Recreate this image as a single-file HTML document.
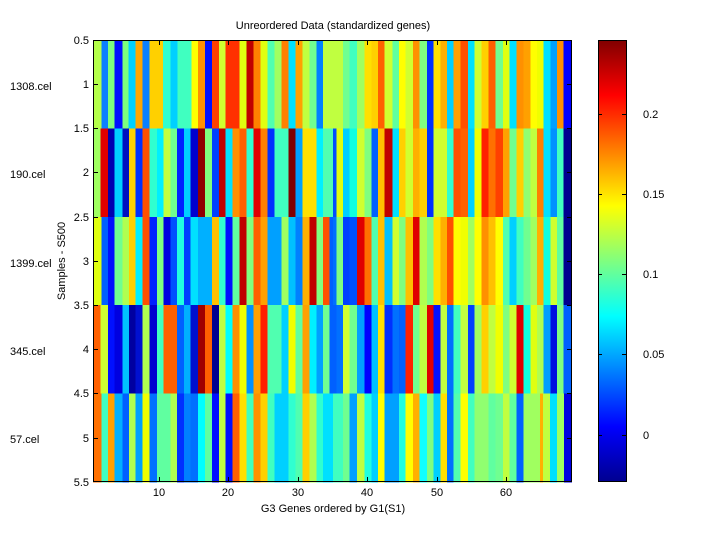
<!DOCTYPE html>
<html><head><meta charset="utf-8"><style>
body{margin:0;background:#fff;}
svg text{font-family:"Liberation Sans",sans-serif;font-size:11px;fill:#000;}
</style></head><body>
<svg width="720" height="540" xmlns="http://www.w3.org/2000/svg" shape-rendering="crispEdges">
<rect width="720" height="540" fill="#fff"/>
<defs>
<linearGradient id="jet" x1="0" y1="1" x2="0" y2="0">
<stop offset="0" stop-color="#00008f"/><stop offset="0.125" stop-color="#0000ff"/>
<stop offset="0.375" stop-color="#00ffff"/><stop offset="0.625" stop-color="#ffff00"/>
<stop offset="0.875" stop-color="#ff0000"/><stop offset="1" stop-color="#800000"/>
</linearGradient>
</defs>
<g id="L" transform="translate(93,0) scale(0.33333,1)">
<!-- row1 -->
<g transform="translate(0,40)">
<rect x="0" width="25" height="89" fill="#b5ff4a"/><rect x="25" width="20" height="89" fill="#0a80ff"/><rect x="45" width="20" height="89" fill="#7dff7d"/><rect x="65" width="23" height="89" fill="#0010ff"/><rect x="88" width="19" height="89" fill="#7dff7d"/><rect x="107" width="21" height="89" fill="#00d0ff"/><rect x="128" width="20" height="89" fill="#ffa600"/><rect x="148" width="22" height="89" fill="#0a80ff"/><rect x="170" width="40" height="89" fill="#ffd000"/><rect x="210" width="22" height="89" fill="#30ffd0"/><rect x="232" width="21" height="89" fill="#00d0ff"/><rect x="253" width="42" height="89" fill="#40ffc0"/><rect x="295" width="20" height="89" fill="#ffff00"/><rect x="315" width="21" height="89" fill="#ff9000"/><rect x="336" width="21" height="89" fill="#0010ff"/><rect x="357" width="21" height="89" fill="#ff4000"/><rect x="378" width="20" height="89" fill="#d0ff30"/><rect x="398" width="42" height="89" fill="#ff3000"/><rect x="440" width="20" height="89" fill="#e0ff10"/><rect x="460" width="22" height="89" fill="#c00000"/><rect x="482" width="20" height="89" fill="#ff8000"/><rect x="502" width="22" height="89" fill="#e0ff10"/><rect x="524" width="21" height="89" fill="#50ffb0"/><rect x="545" width="21" height="89" fill="#a0ff60"/><rect x="566" width="21" height="89" fill="#ff8000"/><rect x="587" width="20" height="89" fill="#00e0ff"/><rect x="607" width="21" height="89" fill="#ffa000"/><rect x="628" width="22" height="89" fill="#c0ff40"/><rect x="650" width="20" height="89" fill="#70ff90"/><rect x="670" width="20" height="89" fill="#0080ff"/><rect x="690" width="30" height="89" fill="#c0ff40"/>
<g transform="translate(720,0)">
<rect x="0" width="30" height="89" fill="#c0ff40"/><rect x="30" width="20" height="89" fill="#70ff90"/><rect x="50" width="22" height="89" fill="#40ffc0"/><rect x="72" width="23" height="89" fill="#a0ff60"/><rect x="95" width="20" height="89" fill="#ffe000"/><rect x="115" width="20" height="89" fill="#ffd000"/><rect x="135" width="20" height="89" fill="#ff6000"/><rect x="155" width="23" height="89" fill="#d0ff30"/><rect x="178" width="20" height="89" fill="#60ffa0"/><rect x="198" width="20" height="89" fill="#ffff00"/><rect x="218" width="22" height="89" fill="#d0ff30"/><rect x="240" width="20" height="89" fill="#ff9000"/><rect x="260" width="22" height="89" fill="#80ff80"/><rect x="282" width="20" height="89" fill="#0030ff"/><rect x="302" width="20" height="89" fill="#ffe000"/><rect x="322" width="20" height="89" fill="#ffb000"/><rect x="342" width="20" height="89" fill="#00d0ff"/><rect x="362" width="21" height="89" fill="#ffa000"/><rect x="383" width="22" height="89" fill="#ff5000"/><rect x="405" width="20" height="89" fill="#00e0ff"/><rect x="425" width="20" height="89" fill="#d0ff30"/><rect x="445" width="22" height="89" fill="#ffd000"/><rect x="467" width="21" height="89" fill="#ff6000"/><rect x="488" width="22" height="89" fill="#70ff90"/><rect x="510" width="20" height="89" fill="#e0ff10"/><rect x="530" width="20" height="89" fill="#00e0ff"/><rect x="550" width="22" height="89" fill="#ff9000"/><rect x="572" width="20" height="89" fill="#ffa000"/><rect x="592" width="20" height="89" fill="#ffff00"/><rect x="612" width="20" height="89" fill="#f0ff00"/><rect x="632" width="20" height="89" fill="#00e0ff"/><rect x="652" width="20" height="89" fill="#00a0ff"/><rect x="672" width="20" height="89" fill="#ff9000"/><rect x="692" width="25" height="89" fill="#0000ff"/>
</g></g>
<!-- row2 -->
<g transform="translate(0,128.4)">
<rect x="0" width="22" height="89" fill="#a0ff60"/><rect x="22" width="23" height="89" fill="#e00000"/><rect x="45" width="20" height="89" fill="#0000b0"/><rect x="65" width="23" height="89" fill="#00d0ff"/><rect x="88" width="20" height="89" fill="#0010c0"/><rect x="108" width="20" height="89" fill="#ffd000"/><rect x="128" width="20" height="89" fill="#0030ff"/><rect x="148" width="22" height="89" fill="#ff5000"/><rect x="170" width="22" height="89" fill="#30ffd0"/><rect x="192" width="20" height="89" fill="#00f0ff"/><rect x="212" width="20" height="89" fill="#c0ff40"/><rect x="232" width="20" height="89" fill="#70ff90"/><rect x="252" width="21" height="89" fill="#0020ff"/><rect x="273" width="20" height="89" fill="#00d0ff"/><rect x="293" width="22" height="89" fill="#0000d0"/><rect x="315" width="21" height="89" fill="#900000"/><rect x="336" width="21" height="89" fill="#80ff80"/><rect x="357" width="21" height="89" fill="#0040ff"/><rect x="378" width="20" height="89" fill="#c00000"/><rect x="398" width="20" height="89" fill="#00e0ff"/><rect x="418" width="22" height="89" fill="#ff9000"/><rect x="440" width="20" height="89" fill="#ff6000"/><rect x="460" width="22" height="89" fill="#30ffd0"/><rect x="482" width="20" height="89" fill="#e00000"/><rect x="502" width="22" height="89" fill="#ff8000"/><rect x="524" width="21" height="89" fill="#0030ff"/><rect x="545" width="42" height="89" fill="#40ffc0"/><rect x="587" width="20" height="89" fill="#800000"/><rect x="607" width="21" height="89" fill="#00a0ff"/><rect x="628" width="42" height="89" fill="#ffe000"/><rect x="670" width="20" height="89" fill="#00f0ff"/><rect x="690" width="30" height="89" fill="#50ffb0"/>
<g transform="translate(720,0)">
<rect x="0" width="10" height="89" fill="#0050ff"/><rect x="10" width="20" height="89" fill="#e0ff10"/><rect x="30" width="20" height="89" fill="#00d0ff"/><rect x="50" width="22" height="89" fill="#10ffe0"/><rect x="72" width="23" height="89" fill="#d0ff30"/><rect x="95" width="20" height="89" fill="#80ff80"/><rect x="115" width="20" height="89" fill="#0060ff"/><rect x="135" width="20" height="89" fill="#ffc000"/><rect x="155" width="23" height="89" fill="#c00000"/><rect x="178" width="20" height="89" fill="#00e0ff"/><rect x="198" width="20" height="89" fill="#ffd000"/><rect x="218" width="22" height="89" fill="#d0ff30"/><rect x="240" width="20" height="89" fill="#ffb000"/><rect x="260" width="22" height="89" fill="#ffd000"/><rect x="282" width="20" height="89" fill="#0030ff"/><rect x="302" width="40" height="89" fill="#d0ff30"/><rect x="342" width="20" height="89" fill="#30ffd0"/><rect x="362" width="21" height="89" fill="#ff5000"/><rect x="383" width="22" height="89" fill="#ff6000"/><rect x="405" width="20" height="89" fill="#00d0ff"/><rect x="425" width="20" height="89" fill="#f0ff00"/><rect x="445" width="22" height="89" fill="#ff2000"/><rect x="467" width="21" height="89" fill="#ff7000"/><rect x="488" width="22" height="89" fill="#ff4000"/><rect x="510" width="20" height="89" fill="#ffa000"/><rect x="530" width="20" height="89" fill="#70ff90"/><rect x="550" width="22" height="89" fill="#ffd000"/><rect x="572" width="20" height="89" fill="#90ff70"/><rect x="592" width="20" height="89" fill="#c0ff40"/><rect x="612" width="20" height="89" fill="#ff8000"/><rect x="632" width="20" height="89" fill="#00e0ff"/><rect x="652" width="20" height="89" fill="#0090ff"/><rect x="672" width="20" height="89" fill="#40ffc0"/><rect x="692" width="25" height="89" fill="#000090"/>
</g></g>
<!-- row3 -->
<g transform="translate(0,216.8)">
<rect x="0" width="25" height="89" fill="#e0ff10"/><rect x="25" width="20" height="89" fill="#0060ff"/><rect x="45" width="20" height="89" fill="#0010ff"/><rect x="65" width="23" height="89" fill="#70ff90"/><rect x="88" width="20" height="89" fill="#b0ff50"/><rect x="108" width="20" height="89" fill="#ffd000"/><rect x="128" width="20" height="89" fill="#00f0ff"/><rect x="148" width="22" height="89" fill="#ff5000"/><rect x="170" width="22" height="89" fill="#0020ff"/><rect x="192" width="20" height="89" fill="#80ff80"/><rect x="212" width="20" height="89" fill="#0000e0"/><rect x="232" width="20" height="89" fill="#0050ff"/><rect x="252" width="21" height="89" fill="#20ffe0"/><rect x="273" width="20" height="89" fill="#0040ff"/><rect x="293" width="22" height="89" fill="#00e0ff"/><rect x="315" width="42" height="89" fill="#00b0ff"/><rect x="357" width="21" height="89" fill="#ffc000"/><rect x="378" width="20" height="89" fill="#30ffd0"/><rect x="398" width="20" height="89" fill="#0010ff"/><rect x="418" width="22" height="89" fill="#60ffa0"/><rect x="440" width="20" height="89" fill="#c00000"/><rect x="460" width="22" height="89" fill="#80ff80"/><rect x="482" width="20" height="89" fill="#ff6000"/><rect x="502" width="22" height="89" fill="#ffa000"/><rect x="524" width="41" height="89" fill="#00a0ff"/><rect x="565" width="22" height="89" fill="#a0ff60"/><rect x="587" width="20" height="89" fill="#00c0ff"/><rect x="607" width="21" height="89" fill="#0080ff"/><rect x="628" width="22" height="89" fill="#ffb000"/><rect x="650" width="20" height="89" fill="#c00000"/><rect x="670" width="20" height="89" fill="#80ff80"/><rect x="690" width="20" height="89" fill="#ff5000"/><rect x="710" width="10" height="89" fill="#0060ff"/>
<g transform="translate(720,0)">
<rect x="0" width="10" height="89" fill="#0070ff"/><rect x="10" width="20" height="89" fill="#80ff80"/><rect x="30" width="20" height="89" fill="#0040ff"/><rect x="50" width="22" height="89" fill="#0050ff"/><rect x="72" width="23" height="89" fill="#e00000"/><rect x="95" width="20" height="89" fill="#ff7000"/><rect x="115" width="20" height="89" fill="#50ffb0"/><rect x="135" width="20" height="89" fill="#ffc000"/><rect x="155" width="23" height="89" fill="#00c0ff"/><rect x="178" width="20" height="89" fill="#d0ff30"/><rect x="198" width="20" height="89" fill="#80ff80"/><rect x="218" width="22" height="89" fill="#ffc000"/><rect x="240" width="20" height="89" fill="#e00000"/><rect x="260" width="22" height="89" fill="#b0ff50"/><rect x="282" width="20" height="89" fill="#80ff80"/><rect x="302" width="20" height="89" fill="#ffe000"/><rect x="322" width="20" height="89" fill="#ffb000"/><rect x="342" width="20" height="89" fill="#ff5000"/><rect x="362" width="21" height="89" fill="#ffff00"/><rect x="383" width="22" height="89" fill="#f0ff00"/><rect x="405" width="20" height="89" fill="#a0ff60"/><rect x="425" width="20" height="89" fill="#ffff00"/><rect x="445" width="22" height="89" fill="#ff9000"/><rect x="467" width="21" height="89" fill="#ffc000"/><rect x="488" width="22" height="89" fill="#ffff00"/><rect x="510" width="20" height="89" fill="#50ffb0"/><rect x="530" width="20" height="89" fill="#00d0ff"/><rect x="550" width="22" height="89" fill="#40ffc0"/><rect x="572" width="20" height="89" fill="#70ff90"/><rect x="592" width="20" height="89" fill="#a0ff60"/><rect x="612" width="20" height="89" fill="#ffb000"/><rect x="632" width="20" height="89" fill="#10ffe0"/><rect x="652" width="20" height="89" fill="#d0ff30"/><rect x="672" width="20" height="89" fill="#60ffa0"/><rect x="692" width="25" height="89" fill="#000090"/>
</g></g>
<!-- row4 -->
<g transform="translate(0,305.2)">
<rect x="0" width="22" height="89" fill="#ff6000"/><rect x="22" width="23" height="89" fill="#d0ff30"/><rect x="45" width="20" height="89" fill="#0010ff"/><rect x="65" width="23" height="89" fill="#0000e0"/><rect x="88" width="20" height="89" fill="#00c0ff"/><rect x="108" width="20" height="89" fill="#0000a0"/><rect x="128" width="20" height="89" fill="#0010d0"/><rect x="148" width="22" height="89" fill="#b0ff50"/><rect x="170" width="22" height="89" fill="#0000d0"/><rect x="192" width="20" height="89" fill="#40ffc0"/><rect x="212" width="40" height="89" fill="#ff6000"/><rect x="252" width="21" height="89" fill="#0060ff"/><rect x="273" width="20" height="89" fill="#00b0ff"/><rect x="293" width="22" height="89" fill="#0010d0"/><rect x="315" width="21" height="89" fill="#a00000"/><rect x="336" width="21" height="89" fill="#ff6000"/><rect x="357" width="21" height="89" fill="#000090"/><rect x="378" width="20" height="89" fill="#c0ff40"/><rect x="398" width="20" height="89" fill="#00ffff"/><rect x="418" width="22" height="89" fill="#ff9000"/><rect x="440" width="20" height="89" fill="#f0ff00"/><rect x="460" width="22" height="89" fill="#0090ff"/><rect x="482" width="20" height="89" fill="#ffa000"/><rect x="502" width="22" height="89" fill="#ff2000"/><rect x="524" width="41" height="89" fill="#50ffb0"/><rect x="565" width="22" height="89" fill="#00d0ff"/><rect x="587" width="20" height="89" fill="#f0ff00"/><rect x="607" width="21" height="89" fill="#60ffa0"/><rect x="628" width="22" height="89" fill="#ffa000"/><rect x="650" width="20" height="89" fill="#00f0ff"/><rect x="670" width="20" height="89" fill="#00a0ff"/><rect x="690" width="20" height="89" fill="#70ff90"/><rect x="710" width="10" height="89" fill="#0060ff"/>
<g transform="translate(720,0)">
<rect x="0" width="10" height="89" fill="#0060ff"/><rect x="10" width="20" height="89" fill="#0070ff"/><rect x="30" width="20" height="89" fill="#d0ff30"/><rect x="50" width="22" height="89" fill="#70ff90"/><rect x="72" width="23" height="89" fill="#00a0ff"/><rect x="95" width="20" height="89" fill="#0000ff"/><rect x="115" width="20" height="89" fill="#00c0ff"/><rect x="135" width="20" height="89" fill="#ffe000"/><rect x="155" width="23" height="89" fill="#0030ff"/><rect x="178" width="20" height="89" fill="#0070ff"/><rect x="198" width="20" height="89" fill="#0060ff"/><rect x="218" width="22" height="89" fill="#ff2000"/><rect x="240" width="20" height="89" fill="#70ff90"/><rect x="260" width="22" height="89" fill="#c0ff40"/><rect x="282" width="20" height="89" fill="#e00000"/><rect x="302" width="20" height="89" fill="#0010ff"/><rect x="322" width="20" height="89" fill="#c0ff40"/><rect x="342" width="20" height="89" fill="#0070ff"/><rect x="362" width="21" height="89" fill="#40ffc0"/><rect x="383" width="22" height="89" fill="#c0ff40"/><rect x="405" width="20" height="89" fill="#0040ff"/><rect x="425" width="20" height="89" fill="#a0ff60"/><rect x="445" width="22" height="89" fill="#ffd000"/><rect x="467" width="21" height="89" fill="#c0ff40"/><rect x="488" width="22" height="89" fill="#f0ff00"/><rect x="510" width="20" height="89" fill="#80ff80"/><rect x="530" width="20" height="89" fill="#d0ff30"/><rect x="550" width="22" height="89" fill="#e00000"/><rect x="572" width="20" height="89" fill="#10ffe0"/><rect x="592" width="20" height="89" fill="#e0ff10"/><rect x="612" width="20" height="89" fill="#b0ff50"/><rect x="632" width="20" height="89" fill="#00a0ff"/><rect x="652" width="20" height="89" fill="#0010e0"/><rect x="672" width="20" height="89" fill="#80ff80"/><rect x="692" width="25" height="89" fill="#0060ff"/>
</g></g>
<!-- row5 -->
<g transform="translate(0,393.6)">
<rect x="0" width="25" height="89" fill="#ff7000"/><rect x="25" width="20" height="89" fill="#40ffc0"/><rect x="45" width="20" height="89" fill="#ffa000"/><rect x="65" width="23" height="89" fill="#00b0ff"/><rect x="88" width="20" height="89" fill="#0060ff"/><rect x="108" width="20" height="89" fill="#b0ff50"/><rect x="128" width="20" height="89" fill="#00a0ff"/><rect x="148" width="22" height="89" fill="#f0ff00"/><rect x="170" width="22" height="89" fill="#0070ff"/><rect x="192" width="40" height="89" fill="#60ffa0"/><rect x="232" width="20" height="89" fill="#b0ff50"/><rect x="252" width="21" height="89" fill="#0030ff"/><rect x="273" width="20" height="89" fill="#0080ff"/><rect x="293" width="22" height="89" fill="#0070ff"/><rect x="315" width="21" height="89" fill="#00ffff"/><rect x="336" width="21" height="89" fill="#60ffa0"/><rect x="357" width="21" height="89" fill="#0010ff"/><rect x="378" width="20" height="89" fill="#c0ff40"/><rect x="398" width="20" height="89" fill="#0010ff"/><rect x="418" width="22" height="89" fill="#ff6000"/><rect x="440" width="20" height="89" fill="#ffe000"/><rect x="460" width="22" height="89" fill="#40ffc0"/><rect x="482" width="20" height="89" fill="#ff9000"/><rect x="502" width="22" height="89" fill="#ffd000"/><rect x="524" width="21" height="89" fill="#40ffc0"/><rect x="545" width="42" height="89" fill="#00d0ff"/><rect x="587" width="20" height="89" fill="#30ffd0"/><rect x="607" width="21" height="89" fill="#50ffb0"/><rect x="628" width="22" height="89" fill="#ffd000"/><rect x="650" width="20" height="89" fill="#b0ff50"/><rect x="670" width="20" height="89" fill="#30ffd0"/><rect x="690" width="30" height="89" fill="#00e0ff"/>
<g transform="translate(720,0)">
<rect x="0" width="30" height="89" fill="#40ffc0"/><rect x="30" width="20" height="89" fill="#70ff90"/><rect x="50" width="22" height="89" fill="#00a0ff"/><rect x="72" width="23" height="89" fill="#c0ff40"/><rect x="95" width="20" height="89" fill="#20ffe0"/><rect x="115" width="20" height="89" fill="#00d0ff"/><rect x="135" width="20" height="89" fill="#ffff00"/><rect x="155" width="43" height="89" fill="#00a0ff"/><rect x="198" width="20" height="89" fill="#20ffe0"/><rect x="218" width="22" height="89" fill="#ffff00"/><rect x="240" width="20" height="89" fill="#ffb000"/><rect x="260" width="22" height="89" fill="#10ffff"/><rect x="282" width="20" height="89" fill="#80ff80"/><rect x="302" width="20" height="89" fill="#00d0ff"/><rect x="322" width="20" height="89" fill="#ffe000"/><rect x="342" width="20" height="89" fill="#0070ff"/><rect x="362" width="21" height="89" fill="#50ffb0"/><rect x="383" width="22" height="89" fill="#ffff00"/><rect x="405" width="20" height="89" fill="#40ffc0"/><rect x="425" width="42" height="89" fill="#90ff70"/><rect x="467" width="21" height="89" fill="#60ffa0"/><rect x="488" width="22" height="89" fill="#70ff90"/><rect x="510" width="20" height="89" fill="#c0ff40"/><rect x="530" width="20" height="89" fill="#60ffa0"/><rect x="550" width="22" height="89" fill="#0060ff"/><rect x="572" width="49" height="89" fill="#a0ff60"/><rect x="621" width="9" height="89" fill="#ffb000"/><rect x="630" width="21" height="89" fill="#c0ff40"/><rect x="651" width="21" height="89" fill="#00e0ff"/><rect x="672" width="21" height="89" fill="#a0ff60"/><rect x="693" width="24" height="89" fill="#0000e0"/>
</g></g>
</g>
<!-- axes frame -->
<rect x="93.5" y="40.5" width="478" height="441" fill="none" stroke="#000" stroke-width="1"/>
<g stroke="#000" stroke-width="1">
<line x1="159.5" y1="482" x2="159.5" y2="477"/><line x1="228.5" y1="482" x2="228.5" y2="477"/><line x1="298.5" y1="482" x2="298.5" y2="477"/><line x1="367.5" y1="482" x2="367.5" y2="477"/><line x1="437.5" y1="482" x2="437.5" y2="477"/><line x1="506.5" y1="482" x2="506.5" y2="477"/>
<line x1="159.5" y1="40" x2="159.5" y2="45"/><line x1="228.5" y1="40" x2="228.5" y2="45"/><line x1="298.5" y1="40" x2="298.5" y2="45"/><line x1="367.5" y1="40" x2="367.5" y2="45"/><line x1="437.5" y1="40" x2="437.5" y2="45"/><line x1="506.5" y1="40" x2="506.5" y2="45"/>
<line x1="93" y1="84.5" x2="98" y2="84.5"/><line x1="93" y1="128.5" x2="98" y2="128.5"/><line x1="93" y1="172.5" x2="98" y2="172.5"/><line x1="93" y1="217.5" x2="98" y2="217.5"/><line x1="93" y1="261.5" x2="98" y2="261.5"/><line x1="93" y1="305.5" x2="98" y2="305.5"/><line x1="93" y1="349.5" x2="98" y2="349.5"/><line x1="93" y1="393.5" x2="98" y2="393.5"/><line x1="93" y1="438.5" x2="98" y2="438.5"/>
<line x1="572" y1="84.5" x2="567" y2="84.5"/><line x1="572" y1="128.5" x2="567" y2="128.5"/><line x1="572" y1="172.5" x2="567" y2="172.5"/><line x1="572" y1="217.5" x2="567" y2="217.5"/><line x1="572" y1="261.5" x2="567" y2="261.5"/><line x1="572" y1="305.5" x2="567" y2="305.5"/><line x1="572" y1="349.5" x2="567" y2="349.5"/><line x1="572" y1="393.5" x2="567" y2="393.5"/><line x1="572" y1="438.5" x2="567" y2="438.5"/>
</g>
<g text-anchor="middle">
<text x="159" y="496">10</text><text x="228" y="496">20</text><text x="298" y="496">30</text><text x="367" y="496">40</text><text x="437" y="496">50</text><text x="506" y="496">60</text>
<text x="333" y="512">G3 Genes ordered by G1(S1)</text>
<text x="333" y="29">Unreordered Data (standardized genes)</text>
<text transform="translate(65,261) rotate(-90)">Samples - S500</text>
</g>
<g text-anchor="end">
<text x="89" y="44">0.5</text><text x="89" y="88">1</text><text x="89" y="132">1.5</text><text x="89" y="176">2</text><text x="89" y="221">2.5</text><text x="89" y="265">3</text><text x="89" y="309">3.5</text><text x="89" y="353">4</text><text x="89" y="397">4.5</text><text x="89" y="442">5</text><text x="89" y="486">5.5</text>
</g>
<g>
<text x="10" y="90">1308.cel</text><text x="10" y="178">190.cel</text><text x="10" y="267">1399.cel</text><text x="10" y="355">345.cel</text><text x="10" y="443">57.cel</text>
</g>
<!-- colorbar -->
<rect x="598" y="40" width="28" height="442" fill="url(#jet)"/>
<rect x="598.5" y="40.5" width="28" height="441" fill="none" stroke="#000"/>
<g stroke="#000">
<line x1="598" y1="114.5" x2="602" y2="114.5"/><line x1="622" y1="114.5" x2="626" y2="114.5"/>
<line x1="598" y1="194.5" x2="602" y2="194.5"/><line x1="622" y1="194.5" x2="626" y2="194.5"/>
<line x1="598" y1="274.5" x2="602" y2="274.5"/><line x1="622" y1="274.5" x2="626" y2="274.5"/>
<line x1="598" y1="354.5" x2="602" y2="354.5"/><line x1="622" y1="354.5" x2="626" y2="354.5"/>
<line x1="598" y1="435.5" x2="602" y2="435.5"/><line x1="622" y1="435.5" x2="626" y2="435.5"/>
</g>
<g>
<text x="643" y="118">0.2</text><text x="643" y="198">0.15</text><text x="643" y="278">0.1</text><text x="643" y="358">0.05</text><text x="643" y="439">0</text>
</g>
</svg>
</body></html>
